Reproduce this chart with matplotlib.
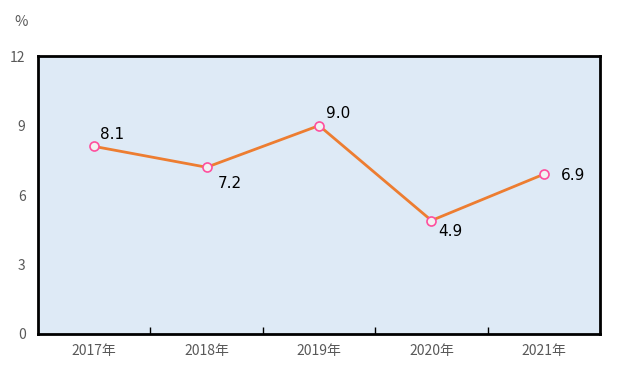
import matplotlib
matplotlib.use("Agg")
import matplotlib.pyplot as plt

plt.rcParams['font.family'] = ['Noto Sans CJK SC', 'DejaVu Sans']

years = ['2017年', '2018年', '2019年', '2020年', '2021年']
growth = [8.1, 7.2, 9.0, 4.9, 6.9]
yticks = [0, 3, 6, 9, 12]

# label offsets (points) for each data label
offsets = [(4, 3), (8, -12), (5, 3), (5, -8), (12, -1)]

fig = plt.figure(figsize=(6.18, 3.74), dpi=100)
ax = fig.add_axes([0.0615, 0.107, 0.9095, 0.743])
ax.set_facecolor('#DEEAF6')

x = list(range(len(years)))
ax.plot(x, growth, color='#ED7D31', linewidth=2, zorder=2)
ax.plot(x, growth, linestyle='none', marker='o', markersize=6.5,
        markerfacecolor='#F2F2F2', markeredgecolor='#FF4F9E',
        markeredgewidth=1.2, zorder=3)

for xi, v, (dx, dy) in zip(x, growth, offsets):
    ax.annotate(f'{v:.1f}', (xi, v), xytext=(dx, dy), textcoords='offset points',
                fontsize=11, color='black', family='DejaVu Sans',
                ha='left', va='bottom' if dy > 0 else 'center')

ax.set_xlim(-0.5, len(years) - 0.5)
ax.set_ylim(0, 12)
ax.set_yticks(yticks)
ax.set_yticklabels([str(t) for t in yticks], color='#595959', fontsize=10)

ax.set_xticks(x)
ax.set_xticklabels(years, color='#595959', fontsize=10)
ax.tick_params(axis='x', length=0, pad=7)
ax.tick_params(axis='y', length=0, pad=9)
# minor ticks at category boundaries
ax.set_xticks([i + 0.5 for i in range(len(years) - 1)], minor=True)
ax.tick_params(axis='x', which='minor', direction='in', length=5, width=1, color='black')

for s in ax.spines.values():
    s.set_linewidth(2)
    s.set_color('black')

fig.text(14 / 618, 1 - 22 / 374, '%', color='#595959', fontsize=10.5, ha='left', va='center')

fig.savefig('out.png', dpi=100)
